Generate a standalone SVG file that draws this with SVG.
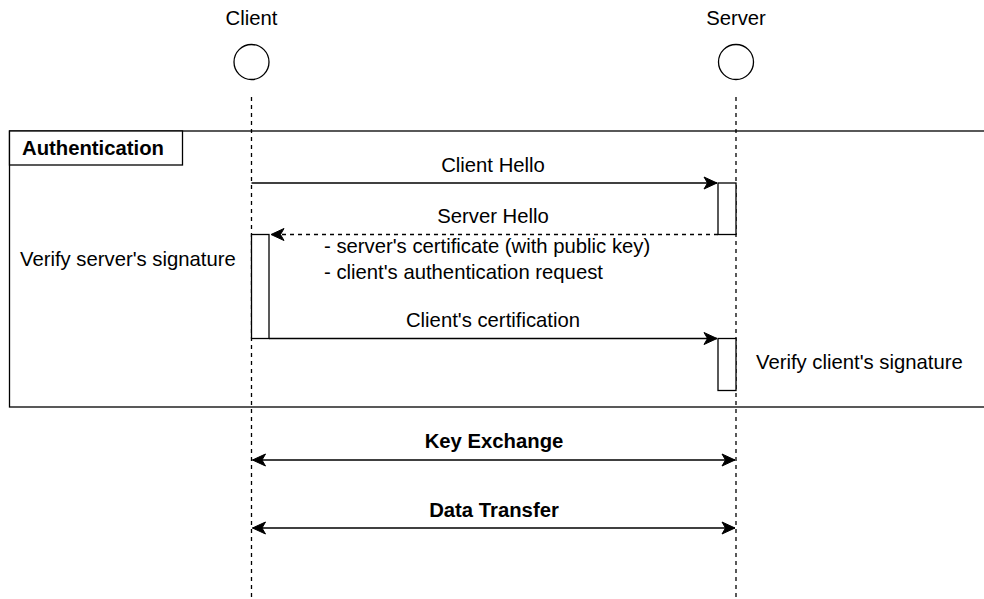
<svg xmlns="http://www.w3.org/2000/svg" width="984" height="599" viewBox="0 0 984 599">
<style>
text{font-family:"Liberation Sans",Arial,sans-serif;font-size:20.3px;fill:#000}
.b{font-weight:bold}
.m{text-anchor:middle}
.ln{stroke:#000;stroke-width:1.3;fill:none}
.dash{stroke-dasharray:4 4}
.box{fill:#fff;stroke:#000;stroke-width:1.3}
</style>
<defs>
<marker id="ah" markerUnits="userSpaceOnUse" markerWidth="16" markerHeight="14" viewBox="-14 -7 16 14" refX="0" refY="0" orient="auto-start-reverse">
<path d="M0,0 L-13,-6 L-9.5,0 L-13,6 Z" fill="#000" stroke="#000" stroke-width="1"/>
</marker>
</defs>
<rect width="984" height="599" fill="#fff"/>

<g id="frame">
<rect x="9.5" y="131" width="990" height="276" class="box" fill="none"/>
<rect x="9.5" y="131" width="173" height="34" class="box"/>
<text x="22" y="155" class="b">Authentication</text>
</g>

<g id="client">
<text x="251.5" y="25" class="m">Client</text>
<circle cx="251.5" cy="62" r="17.5" class="box"/>
<line x1="251.5" y1="97" x2="251.5" y2="599" class="ln dash"/>
</g>

<g id="server">
<text x="736" y="25" class="m">Server</text>
<circle cx="736" cy="62" r="17.5" class="box"/>
<line x1="736" y1="97" x2="736" y2="599" class="ln dash"/>
</g>

<g id="connectors">
<line x1="251.5" y1="183" x2="717" y2="183" class="ln" marker-end="url(#ah)"/>
<line x1="718" y1="234.5" x2="271" y2="234.5" class="ln dash" marker-end="url(#ah)"/>
<line x1="269" y1="338.5" x2="717" y2="338.5" class="ln" marker-end="url(#ah)"/>
<line x1="252.5" y1="460" x2="735" y2="460" class="ln" marker-start="url(#ah)" marker-end="url(#ah)"/>
<line x1="252.5" y1="528" x2="735" y2="528" class="ln" marker-start="url(#ah)" marker-end="url(#ah)"/>
</g>

<g id="act-server-1"><rect x="718" y="183" width="18" height="51.5" class="box"/></g>
<g id="act-client"><rect x="251.5" y="234.5" width="17.5" height="104" class="box"/></g>
<g id="act-server-2"><rect x="718" y="338.5" width="18" height="52" class="box"/></g>

<g id="labels">
<text x="493" y="172" class="m">Client Hello</text>
<text x="493" y="223" class="m">Server Hello</text>
<text x="324" y="253">- server's certificate (with public key)</text>
<text x="324" y="279">- client's authentication request</text>
<text x="493" y="327" class="m">Client's certification</text>
<text x="20" y="266">Verify server's signature</text>
<text x="756" y="369">Verify client's signature</text>
<text x="494" y="448" class="m b">Key Exchange</text>
<text x="494" y="517" class="m b">Data Transfer</text>
</g>
</svg>
